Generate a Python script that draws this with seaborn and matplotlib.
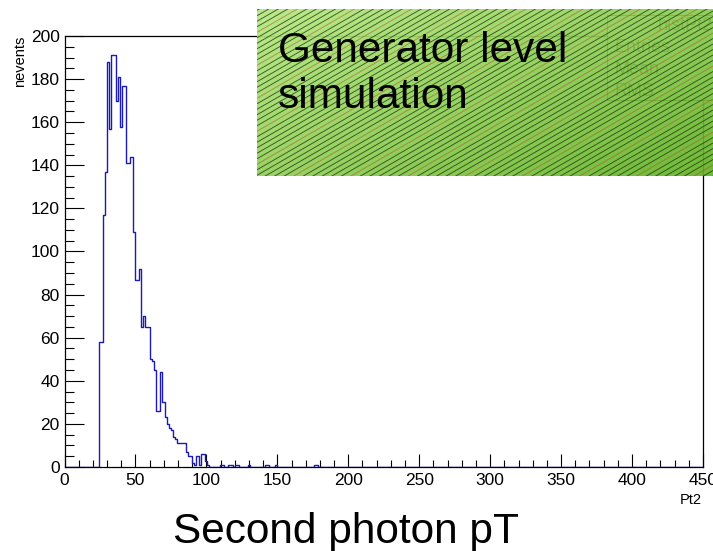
import numpy as np
import pandas as pd
import matplotlib
matplotlib.use("Agg")
import matplotlib.pyplot as plt
import seaborn as sns
from matplotlib.collections import LineCollection
from matplotlib.patches import Rectangle
from matplotlib.lines import Line2D
from matplotlib.ticker import MultipleLocator

# Binning of the Pt2 histogram: 300 bins of 1.5 GeV between 0 and 450
n_bins = 300
pt_min, pt_max = 0.0, 450.0

# Contents of consecutive bins across the main peak, first bin starts at 24 GeV
peak_start = 24.0
peak_counts = [58, 58, 117, 137, 188, 157, 191, 191, 170, 181, 158, 177, 177, 141, 141, 144,
               109, 87, 87, 92, 65, 70, 65, 65, 50, 49, 45, 26, 26, 44, 30, 23, 20, 18, 17, 14,
               13, 11, 11, 11, 11, 7, 5, 5, 2, 1, 5, 1, 6, 6, 3, 1]

# Sparse high-pT tail: lower bin edge and bin content
tail_pt = [109.5, 111.0, 115.5, 117.0, 120.0, 121.5, 129.0, 141.0, 142.5, 148.5, 175.5, 177.0]
tail_counts = [1, 1, 1, 1, 1, 1, 1, 1, 1, 1, 1, 1]

# Axis tick labels
x_ticks = [0, 50, 100, 150, 200, 250, 300, 350, 400, 450]
y_ticks = [0, 20, 40, 60, 80, 100, 120, 140, 160, 180, 200]

# ---------------------------------------------------------------------------
edges = np.linspace(pt_min, pt_max, n_bins + 1)
bin_w = edges[1] - edges[0]
centers = 0.5 * (edges[:-1] + edges[1:])
counts = np.zeros(n_bins)
i0 = int(round(peak_start / bin_w))
counts[i0:i0 + len(peak_counts)] = peak_counts
for pt, c in zip(tail_pt, tail_counts):
    counts[int(round(pt / bin_w))] += c
df = pd.DataFrame({"Pt2": centers, "nevents": counts})

sns.set_theme(style="ticks")
plt.rcParams["font.family"] = ["Liberation Sans", "DejaVu Sans"]
plt.rcParams["text.color"] = "black"
plt.rcParams["axes.labelcolor"] = "black"

W, H = 713, 551
fig = plt.figure(figsize=(W / 100, H / 100), dpi=100)
fig.patch.set_facecolor("white")


def fx(px):
    return px / W


def fy(py):
    return 1 - py / H


ax = fig.add_axes([fx(64.5), fy(467), (703 - 64.5) / W, (467 - 36) / H])
sns.histplot(data=df, x="Pt2", weights="nevents", bins=n_bins, binrange=(pt_min, pt_max),
             element="step", fill=False, color="#1c1cb4", linewidth=1.0, ax=ax)
ax.set_xlim(pt_min, pt_max)
ax.set_ylim(0, 200)
ax.set_xlabel("")
ax.set_ylabel("")
ax.set_xticks(x_ticks)
ax.set_xticklabels([str(v) for v in x_ticks])
ax.set_yticks(y_ticks)
ax.set_yticklabels([str(v) for v in y_ticks])
ax.xaxis.set_minor_locator(MultipleLocator(10))
ax.yaxis.set_minor_locator(MultipleLocator(5))
ax.tick_params(axis="x", which="major", direction="in", length=9.4, width=0.8,
               color="black", labelsize=12.5, pad=4.5, labelcolor="black")
ax.tick_params(axis="x", which="minor", direction="in", length=4.7, width=0.8, color="black")
ax.tick_params(axis="y", which="major", direction="in", length=13.7, width=0.8,
               color="black", labelsize=12.5, pad=3.5, labelcolor="black")
ax.tick_params(axis="y", which="minor", direction="in", length=6.8, width=0.8, color="black")
for s in ax.spines.values():
    s.set_visible(True)
    s.set_color("black")
    s.set_linewidth(0.9)
ax.set_facecolor("white")

# Axis titles
fig.text(fx(20), fy(36), "nevents", rotation=90, ha="center", va="top", fontsize=10.5,
         color="black")
fig.text(fx(702), fy(500), "Pt2", ha="right", va="center", fontsize=10.5, color="black")
fig.text(fx(346), fy(543), "Second photon pT", ha="center", va="baseline", fontsize=30.5,
         color="black")

# Statistics box
stat = Rectangle((fx(607), fy(100)), fx(720) - fx(607), fy(15) - fy(100),
                 transform=fig.transFigure, facecolor="white", edgecolor="black",
                 linewidth=0.8, zorder=5)
fig.patches.append(stat)
fig.lines.append(Line2D([fx(607), fx(713)], [fy(35), fy(35)], transform=fig.transFigure,
                        color="black", linewidth=0.8, zorder=5))
fig.text(fx(658), fy(25), "histPt2", ha="left", va="center", fontsize=13, zorder=6,
         color="black")
for label, py in [("Entries", 48), ("Mean", 70), ("RMS", 92)]:
    fig.text(fx(615), fy(py), label, ha="left", va="center", fontsize=13, zorder=6,
             color="black")

# Hatched green banner
bx0, by0, bw, bh = 257, 9, 456, 167
ov = fig.add_axes([fx(bx0), fy(by0 + bh), bw / W, bh / H], zorder=10)
ov.set_xlim(0, bw)
ov.set_ylim(0, bh)
ov.axis("off")
gx, gy = np.meshgrid(np.linspace(0, 1, 200), np.linspace(0, 1, 80))
t = np.clip(0.55 * gx + 0.45 * (1 - gy), 0, 1)[..., None]
c0 = np.array([180, 234, 126]) / 255.0
c1 = np.array([96, 180, 34]) / 255.0
img = c0 * (1 - t) + c1 * t
ov.imshow(img, extent=[0, bw, 0, bh], origin="lower", aspect="auto", alpha=0.92,
          interpolation="bilinear")
slope = np.tan(np.radians(30))
segs, cols = [], []
k = 0
for b in np.arange(-slope * bw, bh + 5, 5.5):
    segs.append([(0, b), (bw, b + slope * bw)])
    cols.append((0.7, 0.3, 0.2, 0.6) if k % 6 == 2 else (0.16, 0.18, 0.1, 0.8))
    k += 1
ov.add_collection(LineCollection(segs, colors=cols, linewidths=0.65))

fig.text(fx(278), fy(62), "Generator level", ha="left", va="baseline", fontsize=30.5,
         color="black", zorder=11)
fig.text(fx(278), fy(108), "simulation", ha="left", va="baseline", fontsize=30.5,
         color="black", zorder=11)

fig.savefig("out.png", dpi=100)
